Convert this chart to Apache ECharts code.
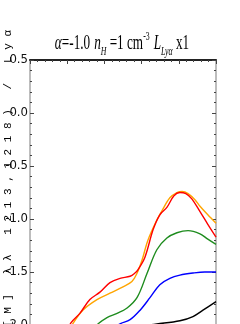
<!DOCTYPE html>
<html>
<head>
<meta charset="utf-8">
<script src="https://cdn.jsdelivr.net/npm/echarts@6/dist/echarts.min.js"></script>
<style>html,body{margin:0;padding:0;background:#fff}#c{width:240px;height:324px}</style>
</head>
<body>
<div id="c"></div>
<script>
// x positions are in arbitrary axis units (axis labels not visible in the crop)
const redX    = [0.97,1.10,1.34,1.61,1.88,2.15,2.42,2.69,2.82,2.90,3.09,3.31,3.49,3.68,3.87,4.03,4.19,4.35,4.57,4.78,5.00];
const redY    = [-2.09,-1.98,-1.89,-1.76,-1.69,-1.60,-1.56,-1.54,-1.51,-1.48,-1.36,-1.10,-0.96,-0.89,-0.78,-0.75,-0.76,-0.81,-0.93,-1.05,-1.17];
const orangeX = [1.02,1.13,1.42,1.80,2.15,2.50,2.74,2.88,3.01,3.17,3.41,3.55,3.76,3.95,4.09,4.25,4.44,4.57,4.78,5.00];
const orangeY = [-2.09,-2.00,-1.86,-1.76,-1.70,-1.64,-1.59,-1.51,-1.39,-1.20,-1.01,-0.92,-0.80,-0.75,-0.74,-0.76,-0.82,-0.88,-0.96,-1.04];
const greenX  = [1.67,1.80,2.07,2.34,2.61,2.88,3.15,3.41,3.68,3.95,4.25,4.57,4.78,5.00];
const greenY  = [-2.09,-2.00,-1.93,-1.89,-1.84,-1.74,-1.51,-1.29,-1.18,-1.13,-1.11,-1.14,-1.19,-1.24];
const blueX   = [2.23,2.37,2.69,2.96,3.23,3.49,3.76,4.03,4.38,4.70,5.00];
const blueY   = [-2.09,-2.00,-1.95,-1.86,-1.74,-1.62,-1.56,-1.53,-1.51,-1.50,-1.50];
const blackX  = [2.42,2.96,3.41,4.03,4.38,4.65,5.00];
const blackY  = [-2.03,-2.01,-1.99,-1.96,-1.92,-1.86,-1.78];

const yMin = -2.5, yMax = 0.5, yStep = 0.5;
const xMin = 0, xMax = 5, xStep = 1;
const yLabel = 'log([M] λλ 1213,1218) / Lyα';

function pairs(xs, ys){ return xs.map((x,i)=>[x, ys[i]]); }
function spaced(s){ return Array.from(s).join(' '); }

const chart = echarts.init(document.getElementById('c'), null, {renderer:'canvas'});
const tickLabelFont = '"Liberation Sans Narrow","DejaVu Sans Condensed","Liberation Sans",sans-serif';

function mkLine(name, xs, ys, color){
  return {name, type:'line', data:pairs(xs,ys), smooth:0.35, symbol:'none',
    lineStyle:{color, width:1.4}, clip:true, z:3};
}

chart.setOption({
  animation:false,
  backgroundColor:'#fff',
  grid:{left:30, right:24, top:60, height:318, containLabel:false, outerBoundsMode:'none'},
  xAxis:[{type:'value', position:'top', min:xMin, max:xMax, interval:xStep,
      axisLine:{show:true, onZero:false, lineStyle:{color:'#222', width:2}},
      axisTick:{show:true, inside:true, length:4, lineStyle:{color:'#444', width:1}},
      minorTick:{show:true, splitNumber:5, length:2, lineStyle:{color:'#444', width:1}},
      axisLabel:{show:false}, splitLine:{show:false}}],
  yAxis:[{type:'value', position:'left', min:yMin, max:yMax, interval:yStep,
      axisLine:{show:true, onZero:false, lineStyle:{color:'#bdbdbd', width:2}},
      axisTick:{show:true, inside:true, length:4, lineStyle:{color:'#444', width:1}},
      minorTick:{show:true, splitNumber:5, length:2, lineStyle:{color:'#444', width:1}},
      axisLabel:{show:true, margin:2, color:'#111', fontFamily:tickLabelFont, fontSize:13,
        formatter:v=>v.toFixed(1)},
      splitLine:{show:false}},
    {type:'value', position:'right', min:yMin, max:yMax, interval:yStep,
      axisLine:{show:true, onZero:false, lineStyle:{color:'#bdbdbd', width:2}},
      axisTick:{show:true, inside:true, length:4, lineStyle:{color:'#444', width:1}},
      minorTick:{show:true, splitNumber:5, length:2, lineStyle:{color:'#444', width:1}},
      axisLabel:{show:false}, splitLine:{show:false}}],
  series:[
    mkLine('black', blackX, blackY, '#000000'),
    mkLine('blue', blueX, blueY, '#0000ff'),
    mkLine('green', greenX, greenY, '#1e8c1e'),
    mkLine('orange', orangeX, orangeY, '#ffa500'),
    mkLine('red', redX, redY, '#ff0000')
  ],
  graphic:[
    {type:'text', x:122, y:54, scaleX:0.6, originX:0, z:10,
      style:{
        text:'{i|α}{a|=-1.0}  {i|n}{s|H}{a| =1 cm}{p|-3}  {i|L}{s|Lyα}{a| x1}',
        textAlign:'center', textVerticalAlign:'bottom', fill:'#000',
        rich:{
          a:{fontFamily:'"Liberation Serif",serif', fontSize:22, fill:'#000'},
          i:{fontFamily:'"Liberation Serif",serif', fontSize:22, fontStyle:'italic', fill:'#000'},
          s:{fontFamily:'"Liberation Serif",serif', fontSize:13, fontStyle:'italic', fill:'#000', verticalAlign:'bottom', padding:[0,0,-4,0]},
          p:{fontFamily:'"Liberation Serif",serif', fontSize:13, fill:'#000', verticalAlign:'top', padding:[-2,0,0,0]}
        }
      }},
    {type:'text', x:8, y:30, rotation:Math.PI/2, z:10,
      style:{text:spaced(yLabel), textAlign:'right', textVerticalAlign:'middle',
        fontFamily:'"Liberation Mono",monospace', fontSize:11, fill:'#000'}}
  ]
});
</script>
</body>
</html>
